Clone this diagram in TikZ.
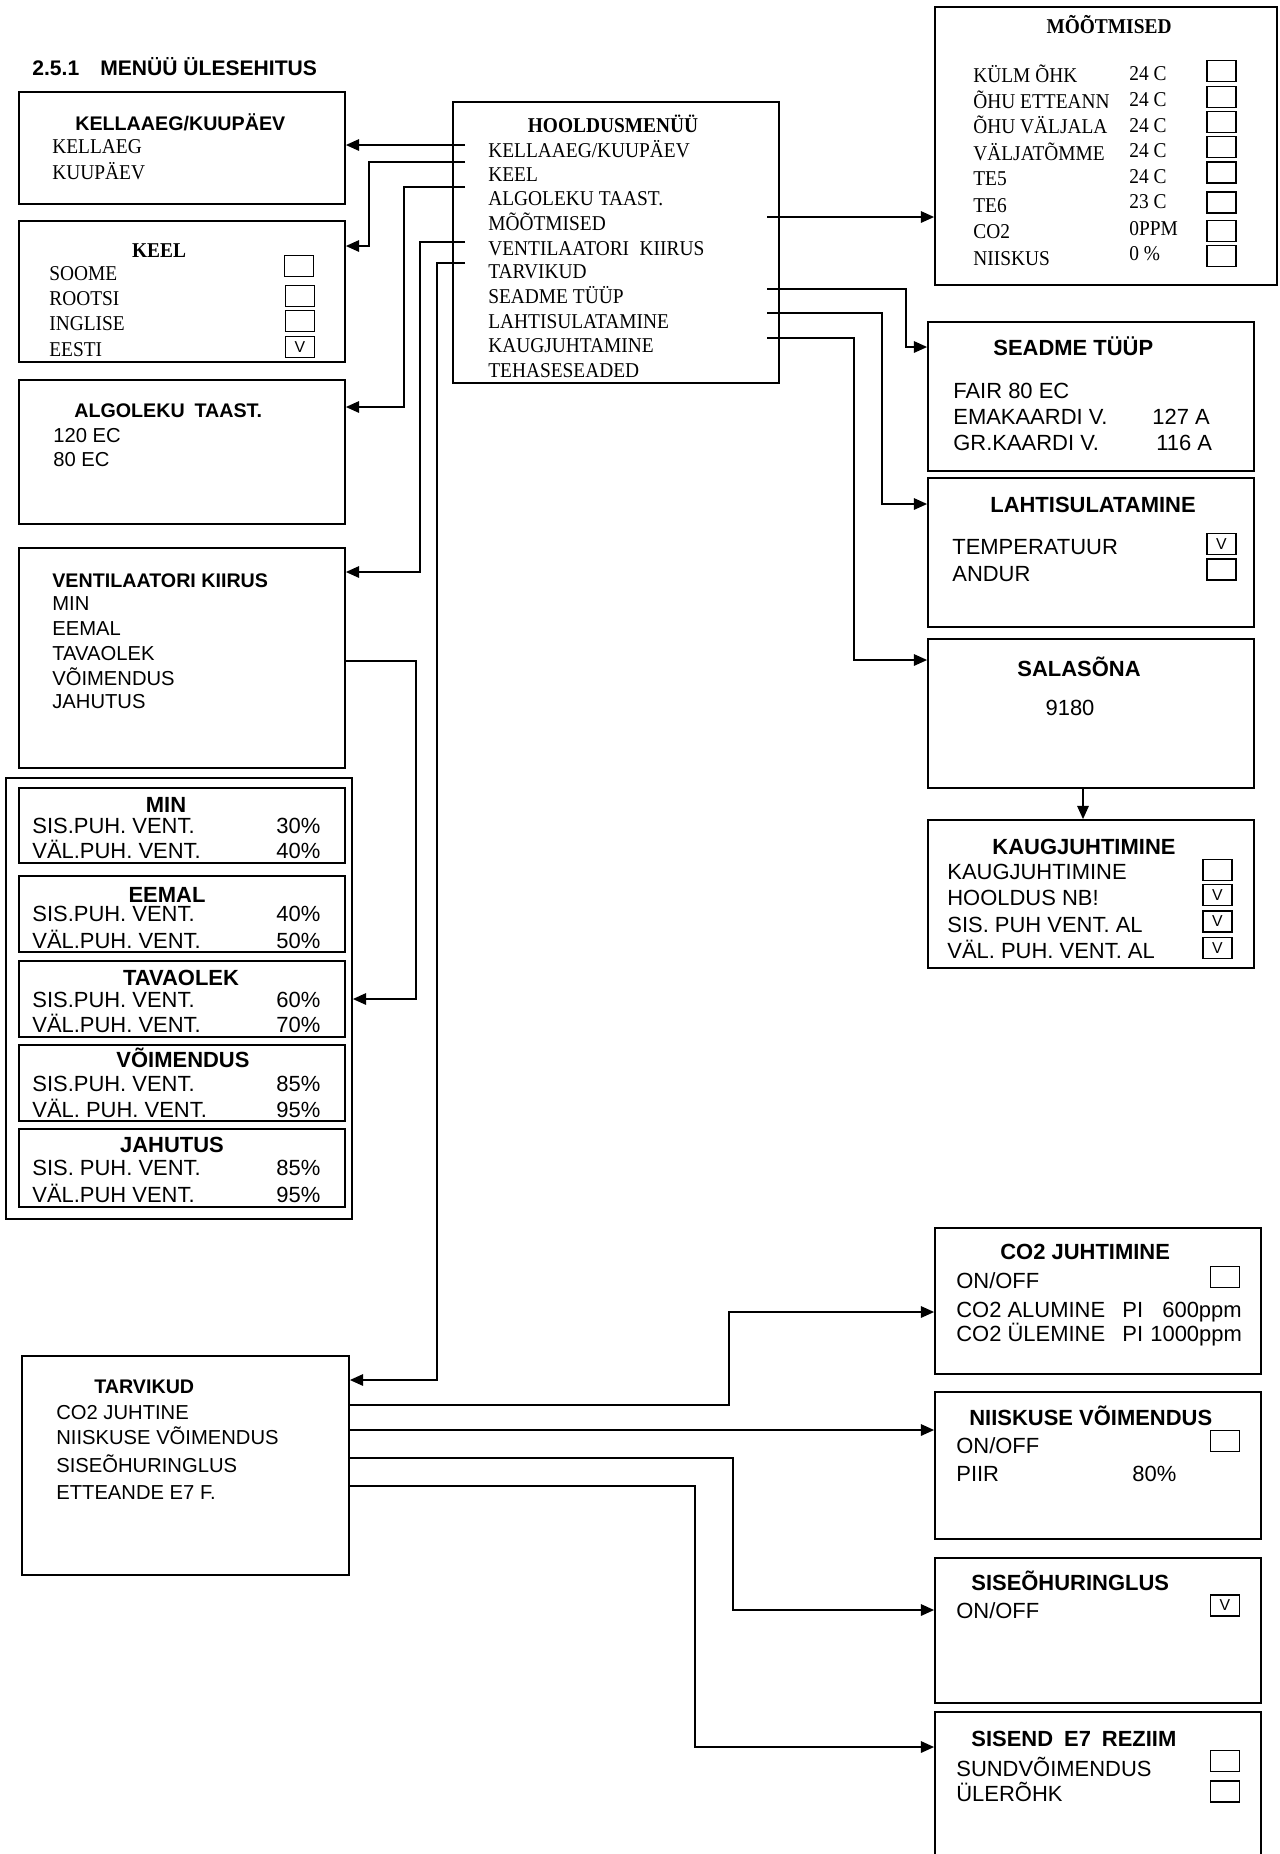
\documentclass[tikz,border=0pt]{standalone}
\usepackage{fontspec}
\setmainfont{Liberation Serif}[FakeStretch=0.92]
\setsansfont{Liberation Sans}
\usepackage{tikz}
\usetikzlibrary{fit,arrows.meta}
\tikzset{
  font={\fontsize{12.5pt}{14}\selectfont\sffamily}}
\tikzset{
  box/.style={draw=black, line width=1pt, inner sep=0pt},
  chk/.style={draw=black, line width=0.8pt, minimum width=0.58cm, minimum height=0.42cm,
    font={\fontsize{9pt}{10}\selectfont\sffamily}},
  it/.style={anchor=base west},
  itc/.style={anchor=base},
  its/.style={anchor=base west, font={\fontsize{11.5pt}{13}\selectfont\sffamily}},
  hd/.style={anchor=base west, font={\fontsize{12.5pt}{14}\selectfont\sffamily\bfseries}},
  hdc/.style={anchor=base, font={\fontsize{12.5pt}{14}\selectfont\sffamily\bfseries}},
  hds/.style={anchor=base west, font={\fontsize{11.2pt}{13}\selectfont\sffamily\bfseries}},
  sr/.style={anchor=base west, font={\fontsize{12pt}{14}\selectfont\rmfamily}},
  srb/.style={anchor=base, font={\fontsize{12pt}{14}\selectfont\rmfamily\bfseries}},
  arr/.style={draw=black, line width=1pt, -{Triangle[length=7.5pt,width=6.5pt]}}
}
\begin{document}
\begin{tikzpicture}[x=0.02cm,y=-0.02cm]
\tikzstyle{every node}+=[inner sep=0pt]
\useasboundingbox (0,0) rectangle (1279,1854);
\node[hds, font={\fontsize{12pt}{14}\selectfont\sffamily\bfseries}] (title) at (32,75) {2.5.1\quad MENÜÜ ÜLESEHITUS};
% hooldusmenyy
\node[box, fit={(453,102) (779,383)}] (hool) {};
\node[srb] (hoolT) at (613,132) {HOOLDUSMENÜÜ};
\node[sr] (h1) at (488,157) {KELLAAEG/KUUPÄEV};
\node[sr] (h2) at (488,181) {KEEL};
\node[sr] (h3) at (488,205) {ALGOLEKU TAAST.};
\node[sr] (h4) at (488,230) {MÕÕTMISED};
\node[sr] (h5) at (488,255) {VENTILAATORI\enspace KIIRUS};
\node[sr] (h6) at (488,278) {TARVIKUD};
\node[sr] (h7) at (488,303) {SEADME TÜÜP};
\node[sr] (h8) at (488,328) {LAHTISULATAMINE};
\node[sr] (h9) at (488,352) {KAUGJUHTAMINE};
\node[sr] (h10) at (488,377) {TEHASESEADED};
\coordinate (hKell) at (465,145);
\coordinate (hKeel) at (465,162);
\coordinate (hAlg) at (465,187);
\coordinate (hVent) at (465,242);
\coordinate (hTarv) at (465,263);
\coordinate (hMoot) at (767,217);
\coordinate (hSeade) at (767,289);
\coordinate (hLahti) at (767,313);
\coordinate (hKaug) at (767,338);
% left column
\node[box, fit={(19,92) (345,204)}] (kell) {};
\node[hds] (kellT) at (75,130) {KELLAAEG/KUUPÄEV};
\node[sr] (kell1) at (52,153) {KELLAEG};
\node[sr] (kell2) at (52,179) {KUUPÄEV};
\node[box, fit={(19,221) (345,362)}] (keel) {};
\node[srb] (keelT) at (159,257) {KEEL};
\node[sr] (keel1) at (49,280) {SOOME};
\node[sr] (keel2) at (49,305) {ROOTSI};
\node[sr] (keel3) at (49,330) {INGLISE};
\node[sr] (keel4) at (49,356) {EESTI};
\node[chk] (cKeel1) at (299,266) {};
\node[chk] (cKeel2) at (300,296) {};
\node[chk] (cKeel3) at (300,321) {};
\node[chk] (cKeel4) at (300,347) {V};
\node[box, fit={(19,380) (345,524)}] (alg) {};
\node[hds] (algT) at (74,417) {ALGOLEKU\enspace TAAST.};
\node[its] (alg1) at (53,442) {120 EC};
\node[its] (alg2) at (53,466) {80 EC};
\node[box, fit={(19,548) (345,768)}] (vent) {};
\node[hds] (ventT) at (52,587) {VENTILAATORI KIIRUS};
\node[its] (vent1) at (52,610) {MIN};
\node[its] (vent2) at (52,635) {EEMAL};
\node[its] (vent3) at (52,660) {TAVAOLEK};
\node[its] (vent4) at (52,685) {VÕIMENDUS};
\node[its] (vent5) at (52,708) {JAHUTUS};
% speeds
\node[box, fit={(6,778) (352,1219)}] (spd) {};
\node[box, fit={(19,788) (345,863)}] (sMin) {};
\node[hdc] (sMinT) at (166,812) {MIN};
\node[it] (sMin1) at (32,833) {SIS.PUH. VENT.};
\node[it] (sMin1v) at (276,833) {30\%};
\node[it] (sMin2) at (32,858) {VÄL.PUH. VENT.};
\node[it] (sMin2v) at (276,858) {40\%};
\node[box, fit={(19,876) (345,952)}] (sEem) {};
\node[hdc] (sEemT) at (167,902) {EEMAL};
\node[it] (sEem1) at (32,921) {SIS.PUH. VENT.};
\node[it] (sEem1v) at (276,921) {40\%};
\node[it] (sEem2) at (32,948) {VÄL.PUH. VENT.};
\node[it] (sEem2v) at (276,948) {50\%};
\node[box, fit={(19,961) (345,1037)}] (sTav) {};
\node[hdc] (sTavT) at (181,985) {TAVAOLEK};
\node[it] (sTav1) at (32,1007) {SIS.PUH. VENT.};
\node[it] (sTav1v) at (276,1007) {60\%};
\node[it] (sTav2) at (32,1032) {VÄL.PUH. VENT.};
\node[it] (sTav2v) at (276,1032) {70\%};
\node[box, fit={(19,1045) (345,1121)}] (sVoim) {};
\node[hdc] (sVoimT) at (183,1067) {VÕIMENDUS};
\node[it] (sVoim1) at (32,1091) {SIS.PUH. VENT.};
\node[it] (sVoim1v) at (276,1091) {85\%};
\node[it] (sVoim2) at (32,1117) {VÄL. PUH. VENT.};
\node[it] (sVoim2v) at (276,1117) {95\%};
\node[box, fit={(19,1129) (345,1207)}] (sJah) {};
\node[hdc] (sJahT) at (172,1152) {JAHUTUS};
\node[it] (sJah1) at (32,1175) {SIS. PUH. VENT.};
\node[it] (sJah1v) at (276,1175) {85\%};
\node[it] (sJah2) at (32,1202) {VÄL.PUH VENT.};
\node[it] (sJah2v) at (276,1202) {95\%};
% tarvikud
\node[box, fit={(22,1356) (349,1575)}] (tarv) {};
\node[hds] (tarvT) at (94,1393) {TARVIKUD};
\node[its] (tarv1) at (56,1419) {CO2 JUHTINE};
\node[its] (tarv2) at (56,1444) {NIISKUSE VÕIMENDUS};
\node[its] (tarv3) at (56,1472) {SISEÕHURINGLUS};
\node[its] (tarv4) at (56,1499) {ETTEANDE E7 F.};
% right column
\node[box, fit={(935,7) (1277,285)}] (moot) {};
\node[srb] (mootT) at (1109,33) {MÕÕTMISED};
\node[sr] (moot1) at (973,82) {KÜLM ÕHK};
\node[sr] (moot2) at (973,108) {ÕHU ETTEANN};
\node[sr] (moot3) at (973,133) {ÕHU VÄLJALA};
\node[sr] (moot4) at (973,160) {VÄLJATÕMME};
\node[sr] (moot5) at (973,185) {TE5};
\node[sr] (moot6) at (973,212) {TE6};
\node[sr] (moot7) at (973,238) {CO2};
\node[sr] (moot8) at (973,265) {NIISKUS};
\node[sr] (moot1v) at (1129,80) {24 C};
\node[sr] (moot2v) at (1129,106) {24 C};
\node[sr] (moot3v) at (1129,132) {24 C};
\node[sr] (moot4v) at (1129,157) {24 C};
\node[sr] (moot5v) at (1129,183) {24 C};
\node[sr] (moot6v) at (1129,208) {23 C};
\node[sr] (moot7v) at (1129,235) {0PPM};
\node[sr] (moot8v) at (1129,260) {0 \%};
\node[chk] (cMoot1) at (1221.5,71) {};
\node[chk] (cMoot2) at (1221.5,97) {};
\node[chk] (cMoot3) at (1221.5,122) {};
\node[chk] (cMoot4) at (1221.5,147) {};
\node[chk] (cMoot5) at (1221.5,172.5) {};
\node[chk] (cMoot6) at (1221.5,202.5) {};
\node[chk] (cMoot7) at (1221.5,231) {};
\node[chk] (cMoot8) at (1221.5,256) {};
\node[box, fit={(928,322) (1254,471)}] (seade) {};
\node[hd] (seadeT) at (993,355) {SEADME TÜÜP};
\node[it] (seade1) at (953,398) {FAIR 80 EC};
\node[it] (seade2) at (953,424) {EMAKAARDI V.};
\node[it] (seade2v) at (1152,424) {127 A};
\node[it] (seade3) at (953,450) {GR.KAARDI V.};
\node[it] (seade3v) at (1156,450) {116 A};
\node[box, fit={(928,478) (1254,627)}] (lahti) {};
\node[hd] (lahtiT) at (990,512) {LAHTISULATAMINE};
\node[it] (lahti1) at (952,554) {TEMPERATUUR};
\node[it] (lahti2) at (952,581) {ANDUR};
\node[chk] (cLahti1) at (1221.5,544) {V};
\node[chk] (cLahti2) at (1221.5,569.5) {};
\node[box, fit={(928,639) (1254,788)}] (sala) {};
\node[hdc] (salaT) at (1079,676) {SALASÕNA};
\node[itc] (sala1) at (1070,715) {9180};
\node[box, fit={(928,820) (1254,968)}] (kaug) {};
\node[hdc] (kaugT) at (1084,854) {KAUGJUHTIMINE};
\node[it] (kaug1) at (947,879) {KAUGJUHTIMINE};
\node[it] (kaug2) at (947,905) {HOOLDUS NB!};
\node[it] (kaug3) at (947,932) {SIS. PUH VENT. AL};
\node[it] (kaug4) at (947,958) {VÄL. PUH. VENT. AL};
\node[chk] (cKaug1) at (1217.5,870) {};
\node[chk] (cKaug2) at (1217.5,895) {V};
\node[chk] (cKaug3) at (1217.5,921.5) {V};
\node[chk] (cKaug4) at (1217.5,948) {V};
\node[box, fit={(935,1228) (1261,1374)}] (co2) {};
\node[hd] (co2T) at (1000,1259) {CO2 JUHTIMINE};
\node[it] (co21) at (956,1288) {ON/OFF};
\node[it] (co22) at (956,1317) {CO2 ALUMINE};
\node[it] (co22p) at (1122,1317) {PI};
\node[it] (co22v) at (1162,1317) {600ppm};
\node[it] (co23) at (956,1341) {CO2 ÜLEMINE};
\node[it] (co23p) at (1122,1341) {PI};
\node[it] (co23v) at (1150,1341) {1000ppm};
\node[chk] (cCo2) at (1225,1277) {};
\node[box, fit={(935,1392) (1261,1539)}] (niisk) {};
\node[hd] (niiskT) at (969,1425) {NIISKUSE VÕIMENDUS};
\node[it] (niisk1) at (956,1453) {ON/OFF};
\node[it] (niisk2) at (956,1481) {PIIR};
\node[it] (niisk2v) at (1132,1481) {80\%};
\node[chk] (cNiisk) at (1225,1441) {};
\node[box, fit={(935,1558) (1261,1703)}] (sise) {};
\node[hd] (siseT) at (971,1590) {SISEÕHURINGLUS};
\node[it] (sise1) at (956,1618) {ON/OFF};
\node[chk] (cSise) at (1225,1605.5) {V};
\node[box, fit={(935,1712) (1261,1870)}] (sisend) {};
\node[hd] (sisendT) at (971,1746) {SISEND\enspace E7\enspace REZIIM};
\node[it] (sisend1) at (956,1776) {SUNDVÕIMENDUS};
\node[it] (sisend2) at (956,1801) {ÜLERÕHK};
\node[chk] (cSisend1) at (1225,1761) {};
\node[chk] (cSisend2) at (1225,1791.5) {};
% connectors
\draw[arr] (hKell) -- (kell.east |- hKell);
\draw[arr] (hKeel) -- (369,162) |- (keel.east |- 0,246);
\draw[arr] (hAlg) -- (404,187) |- (alg.east |- 0,407);
\draw[arr] (hVent) -- (420,242) |- (vent.east |- 0,572);
\draw[arr] (hTarv) -- (437,263) |- (tarv.east |- 0,1380);
\draw[arr] (hMoot) -- (moot.west |- hMoot);
\draw[arr] (hSeade) -- (906,289) |- (seade.west |- 0,347);
\draw[arr] (hLahti) -- (882,313) |- (lahti.west |- 0,504);
\draw[arr] (hKaug) -- (854,338) |- (sala.west |- 0,660);
\draw[arr] (sala.south -| 1083,0) -- (kaug.north -| 1083,0);
\draw[arr] (vent.east |- 0,661) -- (416,661) |- (spd.east |- 0,999);
\draw[arr] (tarv.east |- 0,1405) -- (729,1405) |- (co2.west |- 0,1312);
\draw[arr] (tarv.east |- 0,1430) -- (niisk.west |- 0,1430);
\draw[arr] (tarv.east |- 0,1458) -- (733,1458) |- (sise.west |- 0,1610);
\draw[arr] (tarv.east |- 0,1486) -- (695,1486) |- (sisend.west |- 0,1747);
\end{tikzpicture}
\end{document}
